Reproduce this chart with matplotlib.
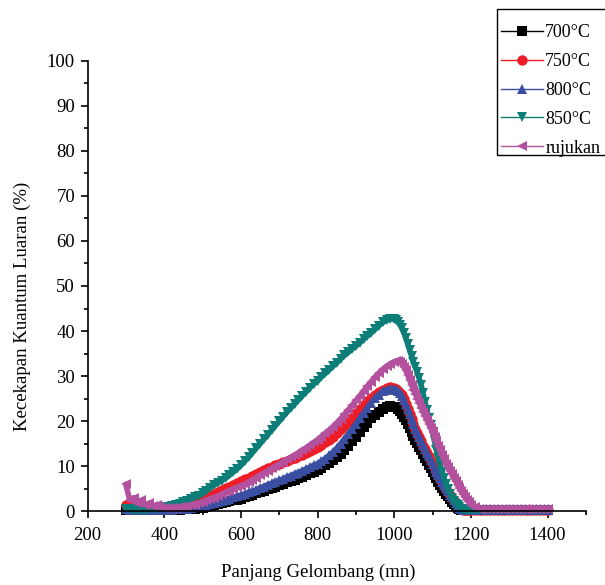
import matplotlib
matplotlib.use("Agg")
import matplotlib.pyplot as plt
from matplotlib.ticker import MultipleLocator
from matplotlib.patches import Rectangle

plt.rcParams['font.family'] = ['Liberation Serif', 'DejaVu Serif']

wavelength = (list(range(300, 1001, 10)) + list(range(1005, 1201, 5))
              + list(range(1210, 1401, 10)))

s700 = [0.3, 0.3, 0.3, 0.3, 0.3, 0.3, 0.3, 0.3, 0.3, 0.3,
        0.3, 0.3, 0.3, 0.3, 0.3, 0.4, 0.4, 0.5, 0.6, 0.7,
        0.8, 1.0, 1.2, 1.4, 1.6, 1.8, 2.0, 2.2, 2.4, 2.6,
        2.8, 3.1, 3.4, 3.7, 4.0, 4.3, 4.6, 4.9, 5.2, 5.5,
        5.8, 6.1, 6.4, 6.7, 7.0, 7.3, 7.6, 8.0, 8.4, 8.8,
        9.2, 9.7, 10.2, 10.7, 11.3, 12.0, 12.8, 13.7, 14.6, 15.6,
        16.6, 17.6, 18.6, 19.6, 20.6, 21.4, 22.1, 22.7, 23.1, 23.3,
        23.2,
        23.1, 22.7, 22.3, 21.7, 21.0, 20.2, 19.4, 18.5, 17.6, 16.8,
        15.9, 15.1, 14.3, 13.5, 12.7, 11.9, 11.1, 10.3, 9.5, 8.8,
        8.0, 7.3, 6.6, 5.9, 5.2, 4.6, 3.9, 3.3, 2.7, 2.1,
        1.6, 1.1, 0.7, 0.4, 0.3, 0.3, 0.3, 0.3, 0.3, 0.3,
        0.3, 0.3, 0.3, 0.3, 0.3, 0.3, 0.3, 0.3, 0.3, 0.3,
        0.3, 0.3, 0.3, 0.3, 0.3, 0.3, 0.3, 0.3, 0.3, 0.3]

s750 = [1.5, 1.3, 1.1, 0.9, 0.8, 0.7, 0.6, 0.6, 0.6, 0.6,
        0.6, 0.7, 0.8, 0.9, 1.0, 1.2, 1.4, 1.7, 2.0, 2.3,
        2.7, 3.1, 3.5, 3.9, 4.3, 4.7, 5.1, 5.5, 5.9, 6.3,
        6.7, 7.1, 7.5, 7.9, 8.3, 8.7, 9.1, 9.5, 9.9, 10.3,
        10.6, 10.9, 11.2, 11.5, 11.8, 12.2, 12.6, 13.0, 13.4, 13.8,
        14.3, 14.8, 15.3, 15.9, 16.6, 17.4, 18.2, 19.0, 19.9, 20.8,
        21.8, 22.7, 23.6, 24.4, 25.2, 25.9, 26.5, 27.0, 27.3, 27.5,
        27.4,
        27.1, 26.7, 26.3, 25.7, 24.9, 23.9, 22.8, 21.6, 20.4, 19.3,
        18.3, 17.3, 16.4, 15.5, 14.6, 13.8, 12.9, 12.1, 11.2, 10.4,
        9.5, 8.7, 7.9, 7.2, 6.4, 5.7, 5.0, 4.3, 3.6, 3.0,
        2.4, 1.8, 1.3, 0.8, 0.5, 0.3, 0.3, 0.3, 0.3, 0.3,
        0.3, 0.3, 0.3, 0.3, 0.3, 0.3, 0.3, 0.3, 0.3, 0.3,
        0.3, 0.3, 0.3, 0.3, 0.3, 0.3, 0.3, 0.3, 0.3, 0.3]

s800 = [0.4, 0.3, 0.3, 0.3, 0.3, 0.3, 0.3, 0.3, 0.3, 0.3,
        0.3, 0.3, 0.3, 0.4, 0.4, 0.5, 0.6, 0.7, 0.9, 1.0,
        1.2, 1.4, 1.6, 1.8, 2.0, 2.3, 2.6, 2.8, 3.1, 3.4,
        3.6, 3.9, 4.2, 4.5, 4.8, 5.2, 5.5, 5.9, 6.2, 6.6,
        6.9, 7.2, 7.6, 7.9, 8.3, 8.6, 9.0, 9.4, 9.8, 10.2,
        10.6, 11.1, 11.7, 12.4, 13.1, 14.0, 15.0, 16.0, 17.1, 18.2,
        19.4, 20.6, 21.8, 23.0, 24.1, 25.1, 25.9, 26.6, 27.0, 27.2,
        27.1,
        26.9, 26.6, 26.2, 25.6, 24.8, 23.8, 22.7, 21.5, 20.4, 19.3,
        18.3, 17.4, 16.5, 15.6, 14.7, 13.9, 13.0, 12.2, 11.3, 10.5,
        9.6, 8.8, 8.0, 7.3, 6.5, 5.8, 5.1, 4.4, 3.7, 3.1,
        2.5, 1.9, 1.3, 0.8, 0.5, 0.3, 0.3, 0.3, 0.3, 0.3,
        0.3, 0.3, 0.3, 0.3, 0.3, 0.3, 0.3, 0.3, 0.3, 0.3,
        0.3, 0.3, 0.3, 0.3, 0.3, 0.3, 0.3, 0.3, 0.3, 0.3]

s850 = [0.5, 0.4, 0.3, 0.3, 0.3, 0.3, 0.4, 0.5, 0.6, 0.7,
        0.9, 1.0, 1.2, 1.4, 1.7, 2.0, 2.3, 2.7, 3.1, 3.5,
        4.0, 4.6, 5.2, 5.8, 6.3, 6.8, 7.4, 8.0, 8.7, 9.4,
        10.2, 11.1, 12.0, 13.0, 14.0, 15.0, 16.0, 17.0, 18.0, 19.0,
        20.0, 21.0, 22.0, 22.9, 23.8, 24.7, 25.6, 26.5, 27.4, 28.2,
        29.0, 29.8, 30.6, 31.4, 32.2, 33.0, 33.8, 34.6, 35.3, 36.0,
        36.7, 37.4, 38.2, 38.9, 39.6, 40.4, 41.2, 41.9, 42.4, 42.7,
        42.6,
        42.4, 42.0, 41.4, 40.6, 39.6, 38.5, 37.2, 35.8, 34.5, 33.2,
        32.1, 30.9, 29.5, 28.0, 26.2, 24.2, 22.5, 20.8, 19.2, 17.5,
        15.5, 13.6, 11.9, 10.2, 8.7, 7.3, 6.1, 4.9, 3.9, 3.0,
        2.3, 1.7, 1.3, 0.9, 0.6, 0.4, 0.3, 0.3, 0.3, 0.3,
        0.3, 0.3, 0.3, 0.3, 0.3, 0.3, 0.3, 0.3, 0.3, 0.3,
        0.3, 0.3, 0.3, 0.3, 0.3, 0.3, 0.3, 0.3, 0.3, 0.3]

s_ref = [6.0, 2.5, 3.0, 1.8, 2.4, 1.4, 1.8, 1.1, 1.3, 0.9,
         0.8, 0.8, 0.8, 0.8, 0.9, 1.0, 1.1, 1.3, 1.5, 1.8,
         2.1, 2.4, 2.7, 3.0, 3.4, 3.8, 4.2, 4.6, 5.0, 5.3,
         5.6, 6.0, 6.5, 7.0, 7.5, 8.0, 8.5, 9.0, 9.5, 10.0,
         10.5, 11.0, 11.5, 12.0, 12.5, 13.0, 13.6, 14.1, 14.7, 15.3,
         15.9, 16.6, 17.3, 18.0, 18.8, 19.6, 20.5, 21.5, 22.5, 23.5,
         24.6, 25.6, 26.7, 27.8, 28.8, 29.8, 30.7, 31.5, 32.2, 32.8,
         33.2,
         33.4, 33.4, 33.2, 32.8, 32.1, 31.3, 30.3, 29.2, 28.1, 27.0,
         26.0, 25.0, 24.0, 23.0, 22.1, 21.2, 20.3, 19.4, 18.5, 17.5,
         16.5, 15.5, 14.5, 13.5, 12.5, 11.5, 10.6, 9.8, 9.0, 8.2,
         7.4, 6.7, 5.9, 5.2, 4.5, 3.8, 3.1, 2.5, 2.0, 1.5,
         0.9, 0.6, 0.6, 0.6, 0.6, 0.6, 0.6, 0.6, 0.6, 0.6,
         0.6, 0.6, 0.6, 0.6, 0.6, 0.6, 0.6, 0.6, 0.6, 0.6]

labels = ['700°C', '750°C', '800°C', '850°C', 'rujukan']
colors = ['#000000', '#ee1c25', '#3a4fa2', '#0d7d78', '#b4519e']
markers = ['s', 'o', '^', 'v', '<']
series = [s700, s750, s800, s850, s_ref]

W, H = 605, 585
fig = plt.figure(figsize=(W / 100, H / 100), dpi=100)
ax = fig.add_axes([87.5 / W, 1 - 511.3 / H, (586 - 87.5) / W, (511.3 - 60.7) / H])

handles = []
for ys, lab, c, m in zip(series, labels, colors, markers):
    ax.plot(wavelength, ys, color=c, linewidth=4.0, solid_capstyle='round',
            solid_joinstyle='round', clip_on=False)
    ax.plot(wavelength, ys, linestyle='none', color=c, marker=m, markersize=7.5,
            markeredgewidth=0, clip_on=False)
    h, = ax.plot([], [], color=c, marker=m, markersize=7.5, markeredgewidth=0,
                 linewidth=1.0, label=lab)
    handles.append(h)

ax.set_xlim(200, 1500)
ax.set_ylim(0, 100)
ax.set_xticks([200, 400, 600, 800, 1000, 1200, 1400])
ax.xaxis.set_minor_locator(MultipleLocator(100))
ax.yaxis.set_major_locator(MultipleLocator(10))
ax.yaxis.set_minor_locator(MultipleLocator(5))
ax.spines['top'].set_visible(False)
ax.spines['right'].set_visible(False)
for sp in ['left', 'bottom']:
    ax.spines[sp].set_linewidth(1.2)
ax.tick_params(which='major', direction='out', length=5, width=1.2, labelsize=13.5)
ax.tick_params(axis='x', which='major', pad=6)
ax.tick_params(axis='y', which='major', pad=4)
ax.tick_params(which='minor', direction='out', length=3, width=1.2)

ax.set_xlabel('Panjang Gelombang (mn)', fontsize=13.5, va='center')
ax.xaxis.set_label_coords((318.5 - 87.5) / 498.5, -(572 - 511.3) / 450.6)
ax.set_ylabel('Kecekapan Kuantum Luaran (%)', fontsize=13.5, va='center')
ax.yaxis.set_label_coords(-(87.5 - 22) / 498.5, (511.3 - 306) / 450.6)

leg = fig.legend(handles=handles, loc='upper left', bbox_to_anchor=(501 / W, 1 - 24 / H),
                 fontsize=13, frameon=False, handlelength=2.3, handletextpad=0.15,
                 labelspacing=0.66, borderpad=0, borderaxespad=0)
fig.patches.append(Rectangle((497 / W, 1 - 155 / H), (W + 5 - 497) / W, (155 - 9) / H,
                             transform=fig.transFigure, fill=False, edgecolor='black',
                             linewidth=1.0))

fig.savefig('out.png', dpi=100)
